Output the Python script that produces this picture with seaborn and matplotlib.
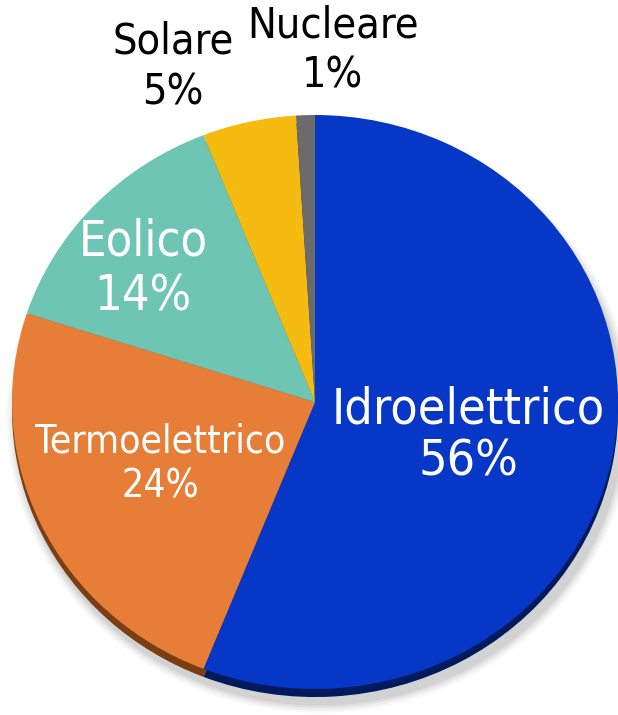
import matplotlib.pyplot as plt
import seaborn as sns

# data
labels = ["Idroelettrico", "Termoelettrico", "Eolico", "Solare", "Nucleare"]
shares = [56, 24, 14, 5, 1]
colors = ["#0637C6", "#E67E37", "#6EC5B4", "#F6BB10", "#6B6B6B"]
side_colors = ["#001A5C", "#7A3E12", "#3B7A6E", "#8A6A08", "#3A3A3A"]

sns.set_theme(style="white")
plt.rcParams['font.family'] = ['DejaVu Sans']

fig = plt.figure(figsize=(6.18, 7.15), dpi=100)
ax = fig.add_axes([0, 0, 1, 1])

# soft shadow under the disc
for i, a in enumerate([0.03, 0.04, 0.05, 0.06]):
    ax.pie([1], radius=1.0 + 0.008 * (4 - i), center=(0.015, -0.05),
           colors=["black"], wedgeprops=dict(alpha=a, linewidth=0))

# side of the disc (depth)
ax.pie(shares, colors=sns.color_palette(side_colors), startangle=90,
       counterclock=False, center=(0, -0.028),
       wedgeprops=dict(linewidth=0))

# top face
wedges, _ = ax.pie(shares, colors=sns.color_palette(colors), startangle=90,
                   counterclock=False, wedgeprops=dict(linewidth=0))

# labels
txt = dict(ha="center", va="center", fontstretch="condensed")
ax.text(0.505, -0.118, f"{labels[0]}\n{shares[0]}%", color="white", fontsize=36,
        linespacing=1.1, **txt)
ax.text(-0.512, -0.216, f"{labels[1]}\n{shares[1]}%", color="white", fontsize=28,
        linespacing=1.25, **txt)
ax.text(-0.568, 0.463, f"{labels[2]}\n{shares[2]}%", color="white", fontsize=35,
        linespacing=1.2, **txt)
ax.text(-0.469, 1.167, f"{labels[3]}\n{shares[3]}%", color="black", fontsize=31,
        linespacing=1.25, **txt)
ax.text(0.059, 1.226, f"{labels[4]}\n{shares[4]}%", color="black", fontsize=31,
        linespacing=1.25, **txt)

# elliptical disc: different unit sizes in x and y
ax.set_aspect("auto")
ax.set_xlim(-315 / 303, 303 / 303)
ax.set_ylim(-313 / 287, 402 / 287)
ax.axis("off")

fig.savefig("out.png", dpi=100)
